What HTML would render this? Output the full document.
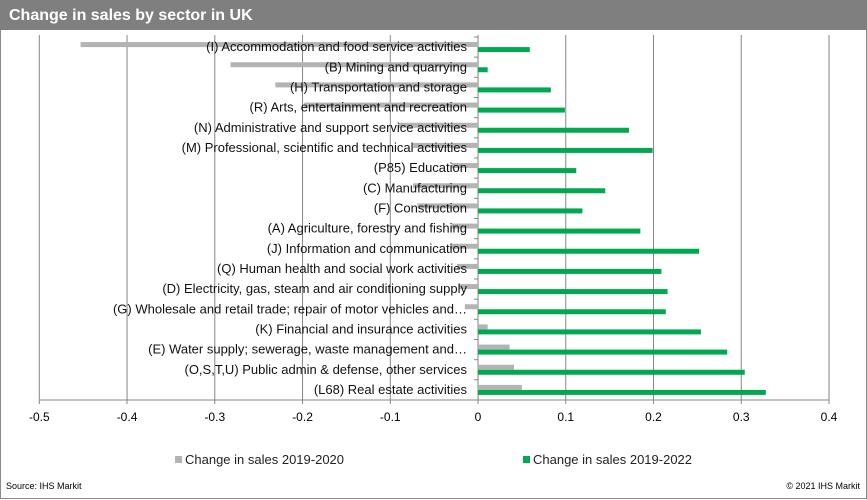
<!DOCTYPE html>
<html><head><meta charset="utf-8"><style>
body{margin:0;width:867px;height:500px;background:#fff;font-family:"Liberation Sans",sans-serif;overflow:hidden}
#frame{position:absolute;left:0;top:0;width:865px;height:498px;border:1px solid #8a8a8a;border-top:none}
#title{position:absolute;left:0;top:0;width:867px;height:30px;background:#7f7f7f;color:#fff;font-weight:bold;font-size:16px;line-height:31px;padding-left:9px;box-sizing:border-box}
.leg{position:absolute;top:452px;font-size:13px;color:#222}
.leg span{display:inline-block;width:7px;height:7px;margin-right:3px;vertical-align:1px}
</style></head><body>
<div id="frame"></div>
<div id="title">Change in sales by sector in UK</div>
<svg id="chart" width="867" height="500" style="position:absolute;left:0;top:0"></svg>
<script>
const categories=["(I) Accommodation and food service activities","(B) Mining and quarrying","(H) Transportation and storage","(R) Arts, entertainment and recreation","(N) Administrative and support service activities","(M) Professional, scientific and technical activities","(P85) Education","(C) Manufacturing","(F) Construction","(A) Agriculture, forestry and fishing","(J) Information and communication","(Q) Human health and social work activities","(D) Electricity, gas, steam and air conditioning supply","(G) Wholesale and retail trade; repair of motor vehicles and…","(K) Financial and insurance activities","(E) Water supply; sewerage, waste management and…","(O,S,T,U) Public admin & defense, other services","(L68) Real estate activities"];
const sales2020=[-0.453,-0.282,-0.231,-0.198,-0.091,-0.074,-0.03,-0.074,-0.069,-0.030,-0.032,-0.024,-0.021,-0.015,0.011,0.036,0.041,0.05];
const sales2022=[0.059,0.011,0.083,0.099,0.172,0.199,0.112,0.145,0.119,0.185,0.252,0.209,0.216,0.214,0.254,0.284,0.304,0.328];
const ticks=[-0.5,-0.4,-0.3,-0.2,-0.1,0,0.1,0.2,0.3,0.4];
const tickLabels=["-0.5","-0.4","-0.3","-0.2","-0.1","0","0.1","0.2","0.3","0.4"];
const svg=document.getElementById('chart');const NS='http://www.w3.org/2000/svg';
const x0=39.3,x1=829,y0=37,y1=400;
const xs=v=>x0+(v+0.5)/0.9*(x1-x0);
const band=(y1-y0)/categories.length;
function mk(t,a){const e=document.createElementNS(NS,t);for(const k in a)e.setAttribute(k,a[k]);svg.appendChild(e);return e;}
ticks.forEach((t,i)=>{
 const g=mk('line',{x1:xs(t),x2:xs(t),y1:y0-2,y2:y1+4,stroke:'#868686','stroke-width':1});
 
 
 const l=mk('text',{x:xs(t),y:421,'text-anchor':'middle','font-size':12,fill:'#000'});l.textContent=tickLabels[i];
 
 
});
const ax=mk('line',{x1:x0,x2:x1,y1:y1,y2:y1,stroke:'#868686'});


const ya=mk('line',{x1:xs(0),x2:xs(0),y1:y0,y2:y1,stroke:'#868686'});


for(let i=0;i<=categories.length;i++){const tk=mk('line',{x1:xs(0)-4,x2:xs(0),y1:y0+i*band,y2:y0+i*band,stroke:'#868686'});
 
 }
categories.forEach((c,i)=>{
 const cy=y0+i*band+band/2;
 const a=sales2020[i],b=sales2022[i];
 const r1=mk('rect',{x:Math.min(xs(0),xs(a)),y:cy-5,width:Math.abs(xs(a)-xs(0)),height:5,fill:'#b3b3b3'});
 
 
 const r2=mk('rect',{x:Math.min(xs(0),xs(b)),y:cy,width:Math.abs(xs(b)-xs(0)),height:5,fill:'#00a84f'});
 
 
});
categories.forEach((c,i)=>{
 const cy=y0+i*band+band/2;
 const t=mk('text',{x:467,y:cy+4,'text-anchor':'end','font-size':13,fill:'#111'});t.textContent=c;
 
 
});
</script>
<div class="leg" style="left:175px"><span style="background:#b3b3b3"></span>Change in sales 2019-2020</div>
<div class="leg" style="left:523px"><span style="background:#00a84f"></span>Change in sales 2019-2022</div>
<div style="position:absolute;left:6px;top:481px;font-size:9px;color:#000">Source: IHS Markit</div>
<div style="position:absolute;right:7px;top:481px;font-size:9px;color:#000">© 2021 IHS Markit</div>
</body></html>
